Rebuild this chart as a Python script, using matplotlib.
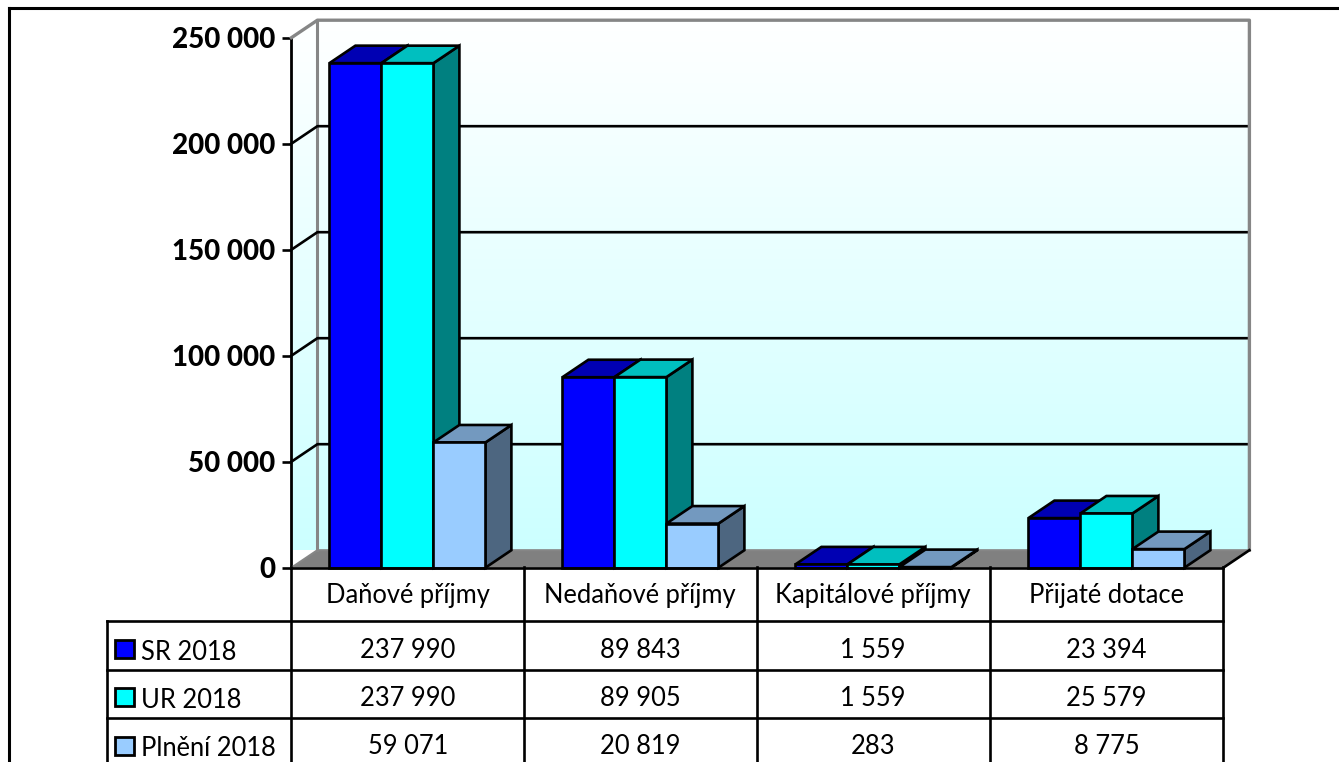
import numpy as np
import matplotlib
matplotlib.use("Agg")
import matplotlib.pyplot as plt
from matplotlib.patches import Polygon
from matplotlib.colors import LinearSegmentedColormap

categories = ["Daňové příjmy", "Nedaňové příjmy", "Kapitálové příjmy", "Přijaté dotace"]
series_names = ["SR 2018", "UR 2018", "Plnění 2018"]
sr_2018 = [237990, 89843, 1559, 23394]
ur_2018 = [237990, 89905, 1559, 25579]
plneni_2018 = [59071, 20819, 283, 8775]
yticks = [0, 50000, 100000, 150000, 200000, 250000]

front = ["#0000FF", "#00FFFF", "#99CCFF"]
top = ["#0000B3", "#00BFBF", "#7399BF"]
side = ["#000080", "#008080", "#4D6680"]

W, H = 1339, 762
plt.rcParams["font.family"] = ["Lato", "DejaVu Sans"]
fig = plt.figure(figsize=(W / 100, H / 100), dpi=100)
L, R, T, B = 291.4, 1223.4, 37.7, 567.7
ax = fig.add_axes([L / W, 1 - B / H, (R - L) / W, (B - T) / H])
ax.set_xlim(0, 4)
ax.set_ylim(0, 250000)
ax.patch.set_visible(False)
for s in ["top", "right", "bottom"]:
    ax.spines[s].set_visible(False)
ax.spines["left"].set_linewidth(2.0)
ax.spines["left"].set_color("black")

dx = 26.0 * 4 / (R - L)
dy = 17.5 * 250000 / (B - T)
lw = 1.9

fmt = lambda v: f"{v:,}".replace(",", " ")

# back + left wall gradient
cmap = LinearSegmentedColormap.from_list("wall", ["#FFFFFF", "#CCFFFF"])
grad = np.linspace(0, 1, 256).reshape(-1, 1)
im = ax.imshow(grad, cmap=cmap, aspect="auto", origin="upper",
               extent=(0, 4 + dx, dy, 250000 + dy), zorder=1)
wall = Polygon([(0, 0), (dx, dy), (4 + dx, dy), (4 + dx, 250000 + dy), (dx, 250000 + dy), (0, 250000)],
               transform=ax.transData, fc="none", ec="none", clip_on=False)
ax.add_patch(wall)
im.set_clip_box(fig.bbox)
im.set_clip_path(wall)
ax.set_xlim(0, 4)
ax.set_ylim(0, 250000)

# floor
ax.add_patch(Polygon([(0, 0), (dx, dy), (4 + dx, dy), (4, 0)], fc="#808080", ec="none", zorder=2, clip_on=False))

# grid
for v in yticks[1:-1]:
    ax.plot([0, dx, 4 + dx], [v, v + dy, v + dy], color="black", lw=lw, zorder=3, clip_on=False, solid_joinstyle="miter")

# wall frame
g = "#868686"
ax.plot([0, dx, 4 + dx, 4 + dx], [250000, 250000 + dy, 250000 + dy, dy], color=g, lw=2.4, zorder=3, clip_on=False)
ax.plot([dx, dx], [250000 + dy, dy], color=g, lw=2.2, zorder=2.5, clip_on=False)
ax.plot([0, dx, 4 + dx], [0, dy, dy], color=g, lw=1.5, zorder=3, clip_on=False)
ax.plot([4, 4 + dx], [0, dy], color="black", lw=lw, zorder=3, clip_on=False)

# bars
bar_w = 52.0 * 4 / (R - L)
gap = 38.0 * 4 / (R - L)
data = [sr_2018, ur_2018, plneni_2018]
z = 5
for c in range(len(categories)):
    for s, vals in enumerate(data):
        v = vals[c]
        x0 = c + gap + s * bar_w
        x1 = x0 + bar_w
        ax.add_patch(Polygon([(x1, 0), (x1 + dx, dy), (x1 + dx, v + dy), (x1, v)], fc=side[s], ec="black",
                             lw=lw, zorder=z, clip_on=False, joinstyle="miter"))
        ax.add_patch(Polygon([(x0, v), (x0 + dx, v + dy), (x1 + dx, v + dy), (x1, v)], fc=top[s], ec="black",
                             lw=lw, zorder=z, clip_on=False, joinstyle="miter"))
        ax.bar(x0, v, bar_w, align="edge", color=front[s], edgecolor="black", linewidth=lw, zorder=z, clip_on=False)
        z += 1

ax.set_xticks([])
ax.set_yticks(yticks)
ax.set_yticklabels([fmt(v) for v in yticks], fontsize=20, fontweight="black", color="black")
ax.tick_params(axis="y", length=6.5, width=1.9, pad=5)

# table
def px(x, y):
    return x / W, 1 - y / H

def line(x0, y0, x1, y1, lw=1.9):
    a, b = px(x0, y0)
    c, d = px(x1, y1)
    fig.add_artist(plt.Line2D([a, c], [b, d], color="black", lw=lw, solid_capstyle="projecting"))

col_edges = [291.4, 524, 756.5, 989.5, 1223.4]
row_edges = [567.5, 621, 669.5, 718]
line(291.4, 567.5, 1223.4, 567.5)
for y in row_edges[1:]:
    line(106.7, y, 1223.4, y)
for x in col_edges:
    line(x, 567, x, 762)
line(106.7, 621, 106.7, 762)

tfs = 18.4
for i, cat in enumerate(categories):
    xc = (col_edges[i] + col_edges[i + 1]) / 2
    a, b = px(xc, 596)
    fig.text(a, b, cat, ha="center", va="center", fontsize=tfs, color="black")

row_y = [650, 698, 747]
lab_y = [652, 700, 749]
box_y = [649, 697, 746]
for r, (name, vals) in enumerate(zip(series_names, data)):
    a, b = px(141, lab_y[r])
    fig.text(a, b, name, ha="left", va="center", fontsize=tfs, color="black")
    cy = box_y[r]
    x0, y0 = px(115, cy - 9)
    x1, y1 = px(134, cy + 9)
    fig.add_artist(plt.Rectangle((x0, y1), x1 - x0, y0 - y1, fc=front[r], ec="black", lw=2.0,
                                 transform=fig.transFigure))
    for i, v in enumerate(vals):
        xc = (col_edges[i] + col_edges[i + 1]) / 2
        a, b = px(xc, row_y[r])
        fig.text(a, b, fmt(v), ha="center", va="center", fontsize=tfs, color="black")

# outer frame
line(9, 8, 1339, 8, lw=2.2)
line(9, 8, 9, 762, lw=2.2)

fig.savefig("out.png", dpi=100, facecolor="white")
